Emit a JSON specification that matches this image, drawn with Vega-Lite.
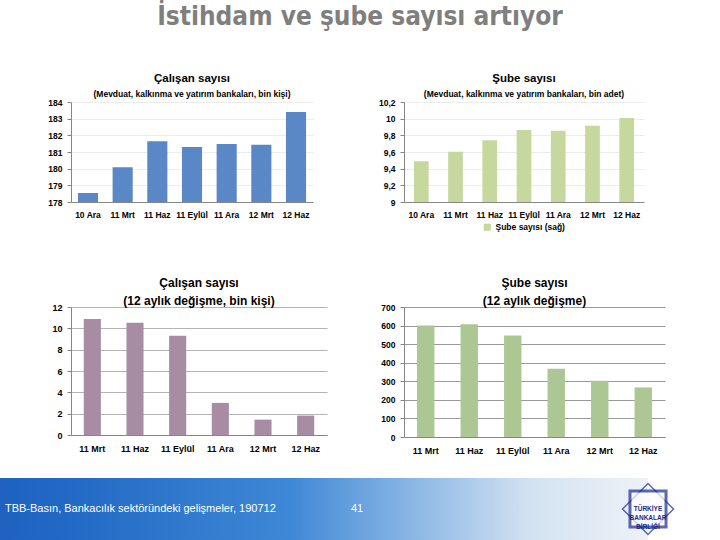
{
  "$schema": "https://vega.github.io/schema/vega-lite/v6.json",
  "background": "white",
  "padding": {"left": 0, "top": 4, "right": 0, "bottom": 0},
  "title": {"text": "İstihdam ve şube sayısı artıyor", "font": "DejaVu Sans Condensed, Liberation Sans", "fontSize": 26, "fontWeight": "bold", "color": "#7f7f7f", "anchor": "middle", "offset": 43},
  "config": {
    "font": "Liberation Sans",
    "view": {"stroke": null},
    "title": {"font": "Liberation Sans", "fontWeight": "bold", "color": "#000000", "subtitleFont": "Liberation Sans", "subtitleColor": "#000000", "subtitleFontWeight": "bold", "anchor": "middle"},
    "axis": {"labelFont": "Liberation Sans", "labelFontWeight": "bold", "labelColor": "#000000", "domainColor": "#868686", "tickColor": "#868686", "title": null},
    "legend": {"layout": {"bottom": {"anchor": "middle"}}}
  },
  "spacing": 23,
  "vconcat": [
    {
      "spacing": 45,
      "vconcat": [
        {
          "spacing": 65,
          "resolve": {"scale": {"color": "independent"}, "legend": {"color": "independent"}},
          "hconcat": [
            {
              "width": 242, "height": 100,
              "title": {"text": "Çalışan sayısı", "subtitle": "(Mevduat, kalkınma ve yatırım bankaları, bin kişi)", "fontSize": 11.5, "subtitleFontSize": 8.5, "subtitlePadding": 5, "offset": 0},
              "data": {"values": [
                {"donem": "10 Ara", "calisan": 178.54},
                {"donem": "11 Mrt", "calisan": 180.08},
                {"donem": "11 Haz", "calisan": 181.64},
                {"donem": "11 Eylül", "calisan": 181.3},
                {"donem": "11 Ara", "calisan": 181.48},
                {"donem": "12 Mrt", "calisan": 181.44},
                {"donem": "12 Haz", "calisan": 183.4}
              ]},
              "mark": {"type": "bar", "color": "#5A87C5", "clip": true},
              "encoding": {
                "x": {"field": "donem", "type": "nominal", "sort": null, "scale": {"paddingInner": 0.42, "paddingOuter": 0.2}, "axis": {"labelAngle": 0, "ticks": false, "labelPadding": 8, "labelFontSize": 8.5}},
                "y": {"field": "calisan", "type": "quantitative", "scale": {"domain": [178, 184], "zero": false, "nice": false}, "axis": {"values": [178, 179, 180, 181, 182, 183, 184], "labelFontSize": 8.5, "tickSize": 4, "labelPadding": 5, "minExtent": 71, "maxExtent": 71, "gridColor": "#ececec"}}
              }
            },
            {
              "width": 240, "height": 100,
              "title": {"text": "Şube sayısı", "subtitle": "(Mevduat, kalkınma ve yatırım bankaları, bin adet)", "fontSize": 11.5, "subtitleFontSize": 8.5, "subtitlePadding": 5, "offset": 0},
              "data": {"values": [
                {"donem": "10 Ara", "sube": 9.488, "seri": "Şube sayısı (sağ)"},
                {"donem": "11 Mrt", "sube": 9.604, "seri": "Şube sayısı (sağ)"},
                {"donem": "11 Haz", "sube": 9.74, "seri": "Şube sayısı (sağ)"},
                {"donem": "11 Eylül", "sube": 9.864, "seri": "Şube sayısı (sağ)"},
                {"donem": "11 Ara", "sube": 9.856, "seri": "Şube sayısı (sağ)"},
                {"donem": "12 Mrt", "sube": 9.916, "seri": "Şube sayısı (sağ)"},
                {"donem": "12 Haz", "sube": 10.008, "seri": "Şube sayısı (sağ)"}
              ]},
              "mark": {"type": "bar", "clip": true},
              "encoding": {
                "x": {"field": "donem", "type": "nominal", "sort": null, "scale": {"paddingInner": 0.57, "paddingOuter": 0.29}, "axis": {"labelAngle": 0, "ticks": false, "labelPadding": 8, "labelFontSize": 8.5}},
                "y": {"field": "sube", "type": "quantitative", "scale": {"domain": [9, 10.2], "zero": false, "nice": false}, "axis": {"values": [9, 9.2, 9.4, 9.6, 9.8, 10, 10.2], "labelExpr": "replace(format(datum.value, '~g'), '.', ',')", "labelFontSize": 8.5, "tickSize": 4, "labelPadding": 5, "minExtent": 25, "maxExtent": 25, "gridColor": "#ececec"}},
                "color": {"field": "seri", "type": "nominal", "scale": {"range": ["#C6D89E"]}, "legend": {"title": null, "orient": "bottom", "direction": "horizontal", "symbolType": "square", "symbolSize": 50, "symbolStrokeWidth": 0, "labelFontSize": 8.5, "labelFontWeight": "bold", "labelFont": "Liberation Sans", "offset": 4, "padding": 0}}
              }
            }
          ]
        },
        {
          "spacing": 52,
          "hconcat": [
            {
              "width": 256, "height": 128,
              "title": {"text": "Çalışan sayısı", "subtitle": "(12 aylık değişme, bin kişi)", "fontSize": 12, "subtitleFontSize": 12, "subtitlePadding": 6, "offset": -5},
              "data": {"values": [
                {"donem": "11 Mrt", "degisim": 10.88},
                {"donem": "11 Haz", "degisim": 10.53},
                {"donem": "11 Eylül", "degisim": 9.31},
                {"donem": "11 Ara", "degisim": 3.01},
                {"donem": "12 Mrt", "degisim": 1.44},
                {"donem": "12 Haz", "degisim": 1.82}
              ]},
              "mark": {"type": "bar", "color": "#A78CA3"},
              "encoding": {
                "x": {"field": "donem", "type": "nominal", "sort": null, "scale": {"paddingInner": 0.6, "paddingOuter": 0.3}, "axis": {"labelAngle": 0, "ticks": false, "labelPadding": 9, "labelFontSize": 9}},
                "y": {"field": "degisim", "type": "quantitative", "scale": {"domain": [0, 12], "nice": false}, "axis": {"values": [0, 2, 4, 6, 8, 10, 12], "labelFontSize": 9, "tickSize": 4, "labelPadding": 5, "minExtent": 71, "maxExtent": 71, "gridColor": "#b4b4b4"}}
              }
            },
            {
              "width": 261, "height": 130,
              "title": {"text": "Şube sayısı", "subtitle": "(12 aylık değişme)", "fontSize": 12, "subtitleFontSize": 12, "subtitlePadding": 6, "offset": -5},
              "data": {"values": [
                {"donem": "11 Mrt", "degisim": 600},
                {"donem": "11 Haz", "degisim": 607},
                {"donem": "11 Eylül", "degisim": 546},
                {"donem": "11 Ara", "degisim": 368},
                {"donem": "12 Mrt", "degisim": 303},
                {"donem": "12 Haz", "degisim": 267}
              ]},
              "mark": {"type": "bar", "color": "#ACC794"},
              "encoding": {
                "x": {"field": "donem", "type": "nominal", "sort": null, "scale": {"paddingInner": 0.6, "paddingOuter": 0.3}, "axis": {"labelAngle": 0, "ticks": false, "labelPadding": 9, "labelFontSize": 9}},
                "y": {"field": "degisim", "type": "quantitative", "scale": {"domain": [0, 700], "nice": false}, "axis": {"values": [0, 100, 200, 300, 400, 500, 600, 700], "labelFontSize": 8.5, "tickSize": 4, "labelPadding": 5, "minExtent": 25, "maxExtent": 25, "gridColor": "#9a9a9a"}}
              }
            }
          ]
        }
      ]
    },
    {
      "width": 649, "height": 62,
      "data": {"values": [
        {"alan": "kaynak", "yazi": "TBB-Basın, Bankacılık sektöründeki gelişmeler, 190712"},
        {"alan": "sayfa", "yazi": "41"},
        {"alan": "logo", "yazi": "TÜRKİYE\nBANKALAR\nBİRLİĞİ"}
      ]},
      "encoding": {},
      "layer": [
        {
          "mark": {"type": "rect", "fill": {"gradient": "linear", "x1": 0, "y1": 0, "x2": 1, "y2": 0, "stops": [
            {"offset": 0, "color": "#1f62c0"},
            {"offset": 0.1, "color": "#2169c4"},
            {"offset": 0.45, "color": "#3f88d6"},
            {"offset": 0.66, "color": "#93bce6"},
            {"offset": 0.82, "color": "#d3e2f2"},
            {"offset": 1, "color": "#eef2f7"}
          ]}},
          "transform": [{"filter": "datum.alan === 'kaynak'"}],
          "encoding": {
            "x": {"datum": 0, "type": "quantitative", "scale": {"domain": [0, 720], "range": [-71, 649]}, "axis": null},
            "x2": {"datum": 720}
          }
        },
        {
          "mark": {"type": "point", "shape": "diamond", "size": 2600, "filled": false, "stroke": "#1b2a8f", "strokeWidth": 1.5},
          "transform": [{"filter": "datum.alan === 'logo'"}],
          "encoding": {"x": {"datum": 720, "type": "quantitative", "axis": null}}
        },
        {
          "mark": {"type": "square", "size": 1300, "filled": true, "fill": "#ffffff", "stroke": "#1b2a8f", "strokeWidth": 3},
          "transform": [{"filter": "datum.alan === 'logo'"}],
          "encoding": {"x": {"datum": 720, "type": "quantitative", "axis": null}}
        },
        {
          "mark": {"type": "text", "align": "center", "baseline": "middle", "lineBreak": "\n", "fontSize": 6.5, "fontWeight": "bold", "color": "#1b2a8f", "lineHeight": 9},
          "transform": [{"filter": "datum.alan === 'logo'"}],
          "encoding": {"x": {"datum": 720, "type": "quantitative", "axis": null}, "text": {"field": "yazi"}}
        },
        {
          "mark": {"type": "text", "align": "left", "baseline": "middle", "fontSize": 11, "color": "#ffffff", "font": "Liberation Sans"},
          "transform": [{"filter": "datum.alan === 'kaynak'"}],
          "encoding": {"x": {"datum": 5.5, "type": "quantitative", "axis": null}, "text": {"field": "yazi"}}
        },
        {
          "mark": {"type": "text", "align": "left", "baseline": "middle", "fontSize": 11, "color": "#ffffff", "font": "Liberation Sans"},
          "transform": [{"filter": "datum.alan === 'sayfa'"}],
          "encoding": {"x": {"datum": 390, "type": "quantitative", "axis": null}, "text": {"field": "yazi"}}
        }
      ]
    }
  ]
}
